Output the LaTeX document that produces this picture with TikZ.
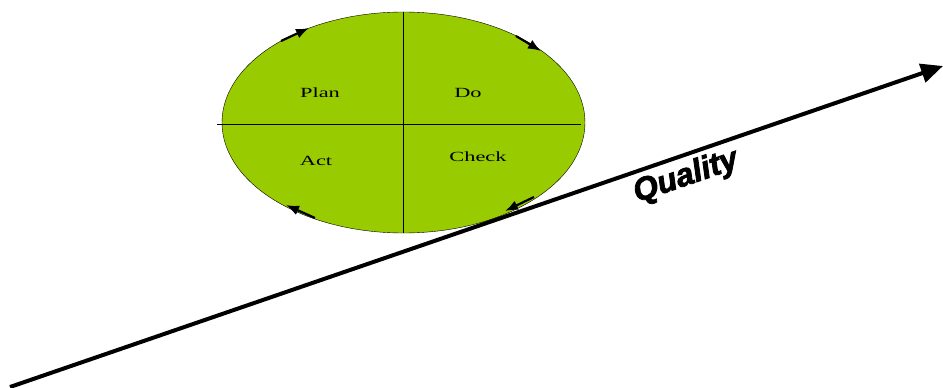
\documentclass[tikz,border=0pt]{standalone}
\usepackage{fontspec}
\setmainfont{Liberation Serif}
\newfontfamily\qualityfont[FakeBold=2.5]{Liberation Sans}
\usetikzlibrary{arrows.meta,shapes.geometric}
\definecolor{cyclegreen}{RGB}{153,204,0}

\begin{document}
\begin{tikzpicture}[x=1pt, y=-1pt,
phase/.style={font=\fontsize{14}{16}\selectfont, xscale=1.6},
turn/.style={-{Latex[length=13pt,width=10pt]}, line width=2.2pt},
axis/.style={-{Triangle[length=22pt,width=19pt]}, line width=4pt}]
\useasboundingbox (0,0) rectangle (943,388);
\node[ellipse, draw, fill=cyclegreen, minimum width=363pt, minimum height=221pt, inner sep=0pt] (cycle) at (403.5,122.5) {};
\coordinate (hl) at (217,124);
\coordinate (hr) at (581,124);
\draw (hl)--(hr);
\draw (cycle.north)--(cycle.south);
\node[phase] (plan) at (320,93) {Plan};
\node[phase] (do) at (468,93) {Do};
\node[phase] (act) at (316,161) {Act};
\node[phase] (check) at (478,157) {Check};
% cycle arrows
\coordinate (a1) at (281,41); \coordinate (b1) at (309,28);
\coordinate (a2) at (516,36); \coordinate (b2) at (541,51);
\coordinate (a3) at (534,197); \coordinate (b3) at (505,211);
\coordinate (a4) at (315,218); \coordinate (b4) at (286,205);
\draw[turn] (a1)--(b1);
\draw[turn] (a2)--(b2);
\draw[turn] (a3)--(b3);
\draw[turn] (a4)--(b4);
% quality axis
\coordinate (start) at (10,387);
\coordinate (tip) at (943,66);
\draw[axis] (start)--(tip);
\node[rotate=19, font=\qualityfont\bfseries\itshape\fontsize{32}{34}\selectfont] (quality) at (686,177) {Quality};
\end{tikzpicture}
\end{document}
